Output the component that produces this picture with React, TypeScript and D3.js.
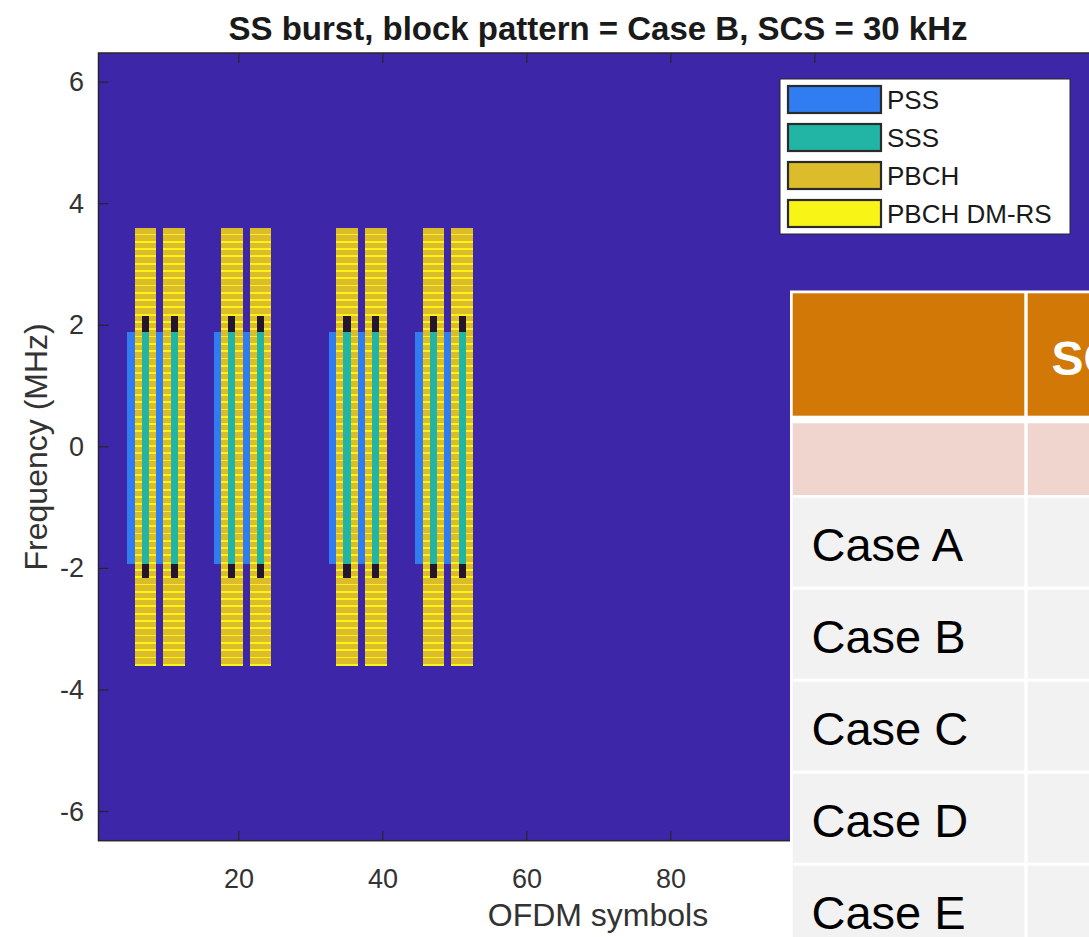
import React from "react";
import * as d3 from "d3";

// ---- Data -----------------------------------------------------------------
// Case B SS burst (30 kHz SCS): first OFDM symbol of each SS block (0-based)
const ssbStartSymbols = [4, 8, 16, 20, 32, 36, 44, 48];
const totalSymbols = 140; // half frame at 30 kHz
const gridSubcarriers = 432; // 36 resource blocks
const ssbSubcarriers = 240;
const scsMHz = 0.03;
const pssSubcarriers = [56, 182]; // PSS / SSS location inside the block
const pbchEdgeSubcarriers = [[0, 47], [192, 239]]; // PBCH around the SSS
const dmrsOffset = 0; // v = NCellID mod 4

const legendLabels = ["PSS", "SSS", "PBCH", "PBCH DM-RS"];
const legendColors = ["#2f7df0", "#22b5a6", "#dcbc2a", "#f8f516"];
const nullColor = "#24162c";
const backgroundColor = "#3d26a8";

const xTicks = [20, 40, 60, 80, 100];
const yTicks = [-6, -4, -2, 0, 2, 4, 6];

const tableRows = ["Case A", "Case B", "Case C", "Case D", "Case E"];
const tableHeader = "SCS";

// ---- Resource grid --------------------------------------------------------
// value codes: 1 PSS, 2 SSS, 3 PBCH, 4 PBCH DM-RS, 5 unused within the block
function blockColumns(): { symbol: number; values: number[] }[] {
  const cols: { symbol: number; values: number[] }[] = [];
  const pbchValue = (j: number) => (j % 4 === dmrsOffset ? 4 : 3);
  ssbStartSymbols.forEach((s) => {
    const pss = new Array(ssbSubcarriers).fill(0);
    const pbch1 = new Array(ssbSubcarriers).fill(0);
    const sss = new Array(ssbSubcarriers).fill(0);
    const pbch3 = new Array(ssbSubcarriers).fill(0);
    for (let j = 0; j < ssbSubcarriers; j++) {
      if (j >= pssSubcarriers[0] && j <= pssSubcarriers[1]) {
        pss[j] = 1;
        sss[j] = 2;
      } else if (pbchEdgeSubcarriers.some(([a, b]) => j >= a && j <= b)) {
        sss[j] = pbchValue(j);
      } else {
        sss[j] = 5;
      }
      pbch1[j] = pbchValue(j);
      pbch3[j] = pbchValue(j);
    }
    cols.push({ symbol: s, values: pss });
    cols.push({ symbol: s + 1, values: pbch1 });
    cols.push({ symbol: s + 2, values: sss });
    cols.push({ symbol: s + 3, values: pbch3 });
  });
  return cols;
}

type Run = { symbol: number; from: number; to: number; value: number };

function runs(): Run[] {
  const out: Run[] = [];
  blockColumns().forEach(({ symbol, values }) => {
    let start = 0;
    for (let j = 1; j <= values.length; j++) {
      if (j === values.length || values[j] !== values[start]) {
        if (values[start] !== 0)
          out.push({ symbol, from: start, to: j - 1, value: values[start] });
        start = j;
      }
    }
  });
  return out;
}

const valueColor = (v: number) => (v === 5 ? nullColor : legendColors[v - 1]);

// ---- Layout ---------------------------------------------------------------
const W = 1089;
const H = 937;
const plotLeft = 98.5;
const symbolWidth = 7.2;
const plotTop = 53;
const plotBottom = 840.7;
const halfSpanMHz = (gridSubcarriers / 2) * scsMHz;

const FONT = "'Liberation Sans', Arial, Helvetica, sans-serif";

export default function App() {
  const x = d3
    .scaleLinear()
    .domain([0.5, totalSymbols + 0.5])
    .range([plotLeft, plotLeft + totalSymbols * symbolWidth]);
  const y = d3
    .scaleLinear()
    .domain([-halfSpanMHz, halfSpanMHz])
    .range([plotBottom, plotTop]);
  const plotRight = x(totalSymbols + 0.5);

  // frequency of the lower edge of block subcarrier j
  const ssbOffset = (gridSubcarriers - ssbSubcarriers) / 2;
  const freq = (j: number) => (ssbOffset + j - gridSubcarriers / 2) * scsMHz;

  const cells = runs();

  // table geometry
  const tLeft = 792.7;
  const tSplit = 1024.3;
  const col2 = 1027.7;
  const headerTop = 293.3;
  const headerBottom = 415.7;
  const pinkTop = 423.3;
  const pinkBottom = 495;
  const rowTop0 = 497.7;
  const rowPitch = 92;
  const rowH = 89;

  return (
    <svg
      width={W}
      height={H}
      viewBox={`0 0 ${W} ${H}`}
      style={{ position: "absolute", left: 0, top: 0, background: "#fff" }}
      fontFamily={FONT}
    >
      <defs>
        <clipPath id="plotClip">
          <rect x={plotLeft} y={plotTop} width={plotRight - plotLeft} height={plotBottom - plotTop} />
        </clipPath>
      </defs>

      {/* title */}
      <text x={598} y={40} textAnchor="middle" fontSize={33} fontWeight="bold" fill="#1a1a1a">
        SS burst, block pattern = Case B, SCS = 30 kHz
      </text>

      {/* resource grid image */}
      <g clipPath="url(#plotClip)">
        <rect x={plotLeft} y={plotTop} width={plotRight - plotLeft} height={plotBottom - plotTop} fill={backgroundColor} />
        {cells.map((c, i) => (
          <rect
            key={i}
            x={x(c.symbol + 0.5)}
            width={x(c.symbol + 1.5) - x(c.symbol + 0.5)}
            y={y(freq(c.to + 1))}
            height={y(freq(c.from)) - y(freq(c.to + 1))}
            fill={valueColor(c.value)}
            shapeRendering="crispEdges"
          />
        ))}
      </g>

      {/* axes box and ticks */}
      <rect x={plotLeft} y={plotTop} width={plotRight - plotLeft} height={plotBottom - plotTop} fill="none" stroke="#262626" strokeWidth={1.5} />
      {xTicks.map((t) => (
        <g key={`xt${t}`}>
          <line x1={x(t)} x2={x(t)} y1={plotBottom} y2={plotBottom - 10} stroke="#262626" strokeWidth={1.2} />
          <line x1={x(t)} x2={x(t)} y1={plotTop} y2={plotTop + 10} stroke="#262626" strokeWidth={1.2} />
          <text x={x(t)} y={888} textAnchor="middle" fontSize={27} fill="#333">
            {t}
          </text>
        </g>
      ))}
      {yTicks.map((t) => (
        <g key={`yt${t}`}>
          <line x1={plotLeft} x2={plotLeft + 10} y1={y(t)} y2={y(t)} stroke="#262626" strokeWidth={1.2} />
          <text x={84} y={y(t) + 9} textAnchor="end" fontSize={27} fill="#333">
            {t}
          </text>
        </g>
      ))}
      <text x={598} y={926} textAnchor="middle" fontSize={32} fill="#333">
        OFDM symbols
      </text>
      <text
        transform={`translate(47, ${(plotTop + plotBottom) / 2}) rotate(-90)`}
        textAnchor="middle"
        fontSize={32}
        fill="#333"
      >
        Frequency (MHz)
      </text>

      {/* legend */}
      <rect x={780} y={79} width={290} height={155} fill="#fff" stroke="#262626" strokeWidth={1} />
      {legendLabels.map((lab, i) => (
        <g key={lab}>
          <rect x={788} y={86 + i * 38} width={93} height={27} fill={legendColors[i]} stroke="#2b2b2b" strokeWidth={2.2} />
          <text x={887} y={86 + i * 38 + 23} fontSize={26} fill="#1a1a1a">
            {lab}
          </text>
        </g>
      ))}

      {/* table */}
      <rect x={790} y={290.5} width={W - 790} height={H - 290.5} fill="#fff" />
      <rect x={tLeft} y={headerTop} width={tSplit - tLeft} height={headerBottom - headerTop} fill="#d27807" />
      <rect x={col2} y={headerTop} width={W - col2} height={headerBottom - headerTop} fill="#d27807" />
      <text x={1051.5} y={375} fontSize={48} fontWeight="bold" fill="#fff">
        {tableHeader}
      </text>
      <rect x={tLeft} y={pinkTop} width={tSplit - tLeft} height={pinkBottom - pinkTop} fill="#efd5cd" />
      <rect x={col2} y={pinkTop} width={W - col2} height={pinkBottom - pinkTop} fill="#efd5cd" />
      {tableRows.map((r, i) => {
        const top = rowTop0 + i * rowPitch;
        return (
          <g key={r}>
            <rect x={tLeft} y={top} width={tSplit - tLeft} height={rowH} fill="#f2f2f2" />
            <rect x={col2} y={top} width={W - col2} height={rowH} fill="#f2f2f2" />
            <text x={811.5} y={top + 63.5} fontSize={47} fill="#000">
              {r}
            </text>
          </g>
        );
      })}
    </svg>
  );
}
